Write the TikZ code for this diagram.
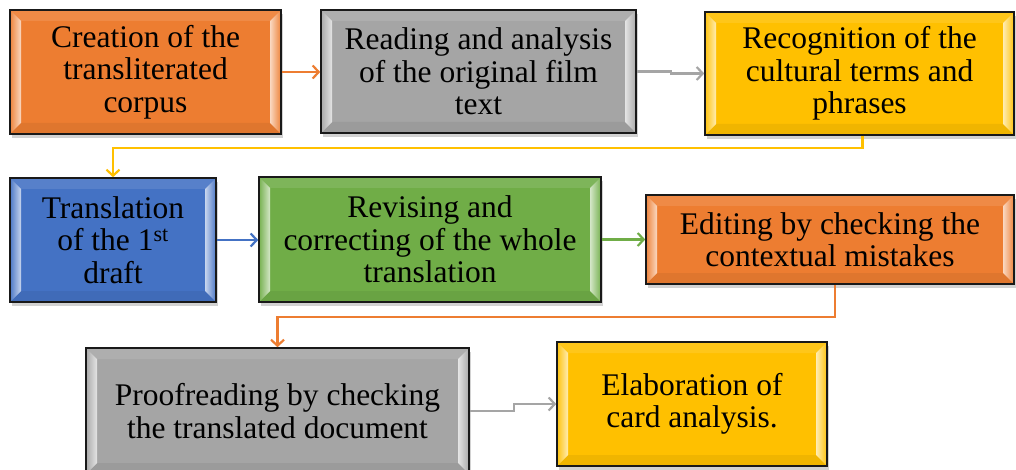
\documentclass[tikz,border=0pt]{standalone}
\usepackage{fontspec}
\newfontfamily\boxfont{Liberation Serif}
\usetikzlibrary{arrows.meta,shadows,calc}
\definecolor{cOrange}{HTML}{ED7D31}
\definecolor{cGray}{HTML}{A5A5A5}
\definecolor{cYellow}{HTML}{FFC000}
\definecolor{cBlue}{HTML}{4472C4}
\definecolor{cGreen}{HTML}{70AD47}
\tikzset{
  bev/.style={draw=black!90, line width=1.6pt, fill=#1, align=center, inner sep=0pt,
    font=\boxfont\fontsize{31.5}{32.5}\selectfont,
    drop shadow={opacity=0.35, shadow xshift=2pt, shadow yshift=-4pt},
    path picture={
      \coordinate (pnw) at (path picture bounding box.north west);
      \coordinate (pne) at (path picture bounding box.north east);
      \coordinate (psw) at (path picture bounding box.south west);
      \coordinate (pse) at (path picture bounding box.south east);
      \fill[#1!90!white] (pnw) -- (pne) -- ([xshift=-11pt,yshift=-11pt]pne) -- ([xshift=11pt,yshift=-11pt]pnw) -- cycle;
      \fill[#1!94!black] (psw) -- (pse) -- ([xshift=-11pt,yshift=11pt]pse) -- ([xshift=11pt,yshift=11pt]psw) -- cycle;
      \shade[left color=#1!95!white, right color=#1!30!white] (pnw) -- ([xshift=11pt,yshift=-11pt]pnw) -- ([xshift=11pt,yshift=11pt]psw) -- (psw) -- cycle;
      \shade[left color=#1!30!white, right color=#1!95!white] (pne) -- ([xshift=-11pt,yshift=-11pt]pne) -- ([xshift=-11pt,yshift=11pt]pse) -- (pse) -- cycle;
    }},
  conn/.style={line width=2.2pt, -{Straight Barb[length=6pt,width=13pt,line width=2.2pt]}},
}
\begin{document}
\begin{tikzpicture}[x=1pt,y=-1pt]
\useasboundingbox[fill=white] (0,0) rectangle (1016,470);
\node[bev=cOrange, minimum width=271pt, minimum height=124pt] (b1) at (145.5,72) {Creation of the\\transliterated\\corpus};
\node[bev=cGray, minimum width=315pt, minimum height=123pt] (b2) at (478.5,71.5) {Reading and analysis\\of the original film\\text};
\node[bev=cYellow, minimum width=309pt, minimum height=123pt] (b3) at (859.5,73.5) {Recognition of the\\cultural terms and\\phrases};
\node[bev=cBlue, minimum width=206pt, minimum height=124pt] (b4) at (113,240) {Translation\\of the 1\textsuperscript{st}\\draft};
\node[bev=cGreen, minimum width=342pt, minimum height=125pt] (b5) at (430,239.5) {Revising and\\correcting of the whole\\translation};
\node[bev=cOrange, minimum width=368pt, minimum height=89pt] (b6) at (830,239.5) {Editing by checking the\\contextual mistakes};
\node[bev=cGray, minimum width=383pt, minimum height=126pt] (b7) at (277.5,411) {Proofreading by checking\\the translated document};
\node[bev=cYellow, minimum width=270pt, minimum height=124pt] (b8) at (692,404) {Elaboration of\\card analysis.};

\draw[conn,cOrange] (b1.east) -- (b2.west |- b1.east);
\draw[conn,cGray] (b2.east) -- ++(34,0) |- (b3.west);
\draw[conn,cYellow] ([xshift=3pt]b3.south) -- ++(0,12) -| (b4.north);
\draw[conn,cBlue] (b4.east) -- (b5.west |- b4.east);
\draw[conn,cGreen] (b5.east) -- (b6.west |- b5.east);
\draw[conn,cOrange] ([xshift=5pt]b6.south) -- ++(0,32) -| (b7.north);
\draw[conn,cGray] (b7.east) -- ++(44,0) |- (b8.west);
\end{tikzpicture}
\end{document}
